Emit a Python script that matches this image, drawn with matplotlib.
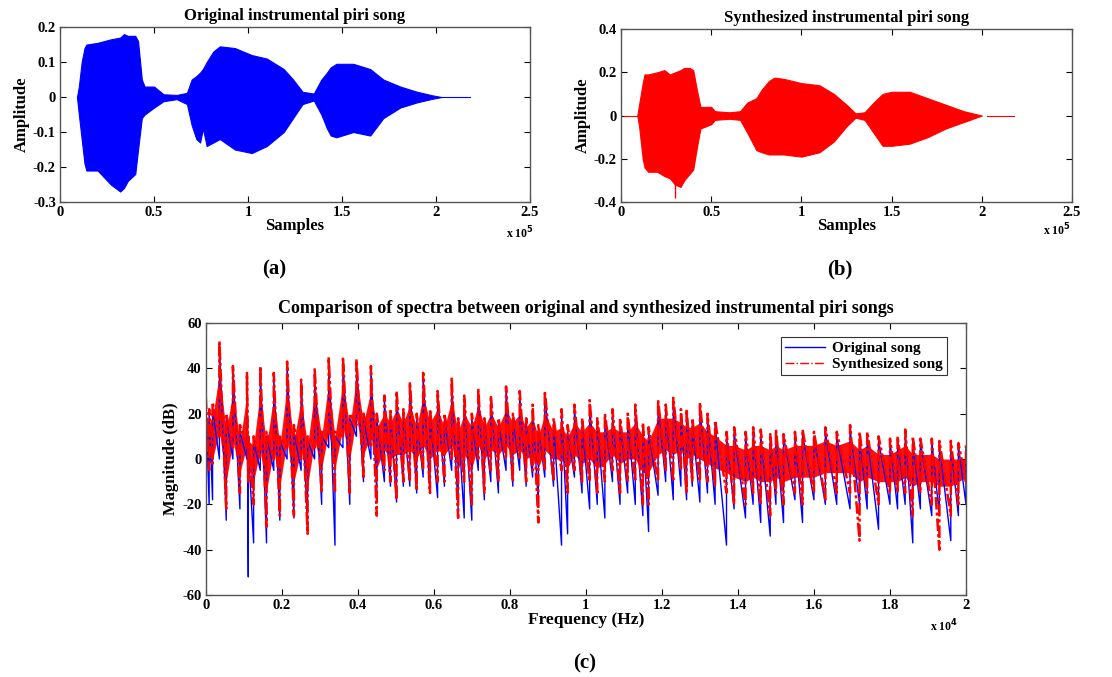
import matplotlib
matplotlib.use('Agg')
import matplotlib.pyplot as plt
from matplotlib.ticker import FuncFormatter
from matplotlib.lines import Line2D

plt.rcParams['font.family'] = 'Liberation Serif'
plt.rcParams['font.weight'] = 'bold'
plt.rcParams['axes.unicode_minus'] = False

# ---- (a) original waveform envelope (samples, amplitude) ----
a_samples = [9000, 10000, 11500, 13000, 14000, 20000, 27000, 32000, 34000, 36000,
             40000, 41500, 43500, 45000, 50000, 55000, 62000, 67500, 70000, 72500,
             74500, 76000, 78000, 81500, 85000, 93000, 102000, 110000, 119000, 124000,
             129000, 135000, 139000, 142000, 144000, 147000, 156000, 165000, 172000, 181000,
             190000, 198000, 203000]
a_upper = [0.0, 0.03, 0.10, 0.14, 0.15, 0.155, 0.165, 0.17, 0.18, 0.175,
           0.175, 0.16, 0.05, 0.03, 0.03, 0.008, 0.006, 0.012, 0.05, 0.06,
           0.07, 0.08, 0.10, 0.13, 0.145, 0.14, 0.12, 0.11, 0.08, 0.05,
           0.015, 0.01, 0.05, 0.07, 0.085, 0.095, 0.095, 0.08, 0.05, 0.03,
           0.015, 0.005, 0.0]
a_lower = [0.0, -0.05, -0.12, -0.19, -0.21, -0.21, -0.25, -0.27, -0.26, -0.24,
           -0.22, -0.15, -0.06, -0.05, -0.03, -0.012, -0.006, -0.02, -0.08, -0.12,
           -0.13, -0.09, -0.14, -0.13, -0.12, -0.15, -0.16, -0.14, -0.10, -0.06,
           -0.02, -0.01, -0.05, -0.09, -0.11, -0.115, -0.10, -0.11, -0.06, -0.03,
           -0.015, -0.005, 0.0]
a_flat = [203000, 218000]

# ---- (b) synthesized waveform envelope ----
b_samples = [9000, 10000, 12000, 13000, 15000, 20000, 24000, 27000, 30000, 33000,
             35000, 38000, 40000, 42000, 44000, 50000, 52000, 60000, 66000, 70000,
             75000, 78000, 82000, 85000, 90000, 100000, 110000, 118000, 125000, 130000,
             135000, 140000, 145000, 150000, 160000, 170000, 180000, 190000, 200000]
b_upper = [0.0, 0.05, 0.15, 0.19, 0.19, 0.20, 0.21, 0.19, 0.20, 0.21,
           0.22, 0.22, 0.21, 0.12, 0.04, 0.04, 0.02, 0.015, 0.02, 0.06,
           0.08, 0.12, 0.16, 0.175, 0.17, 0.15, 0.14, 0.10, 0.05, 0.01,
           0.015, 0.06, 0.10, 0.11, 0.11, 0.08, 0.05, 0.02, 0.0]
b_lower = [0.0, -0.05, -0.20, -0.24, -0.26, -0.26, -0.28, -0.29, -0.32, -0.33,
           -0.30, -0.27, -0.25, -0.15, -0.06, -0.04, -0.02, -0.015, -0.02, -0.08,
           -0.16, -0.17, -0.18, -0.18, -0.18, -0.19, -0.17, -0.12, -0.05, -0.01,
           -0.02, -0.08, -0.14, -0.14, -0.13, -0.10, -0.06, -0.03, 0.0]
b_spike_x = [30000]
b_spike_y = [-0.38]
b_flat_lead = [1500, 9000]
b_flat_tail = [203000, 218000]

# ---- (c) spectra: frequency (Hz), upper/lower extent of each stroke (dB) ----
freq = [0, 90, 180, 360, 540, 715, 900, 1085, 1120, 1260,
        1435, 1600, 1790, 1950, 2140, 2320, 2510, 2680, 2865, 3050,
        3235, 3400, 3610, 3790, 3965, 4150, 4345, 4500, 4700, 4860,
        5020, 5200, 5370, 5550, 5720, 5900, 6100, 6280, 6470, 6640,
        6800, 7000, 7170, 7330, 7500, 7700, 7900, 8080, 8260, 8430,
        8600, 8750, 8920, 9150, 9360, 9520, 9700, 9900, 10100, 10300,
        10500, 10700, 10900, 11100, 11300, 11500, 11650, 11900, 12100, 12300,
        12500, 12650, 12800, 13000, 13200, 13400, 13700, 13900, 14200, 14400,
        14600, 14850, 15000, 15200, 15500, 15700, 16000, 16300, 16600, 16950,
        17200, 17400, 17700, 18000, 18200, 18400, 18600, 18800, 19100, 19300,
        19600, 19800, 20000]
synth_hi = [28, 22, 25, 52, 20, 41, 15, 38, 10, 10,
            41, 12, 38, 10, 43, 15, 35, 10, 40, 12,
            45, 12, 45, 20, 44, 20, 41, 20, 28, 22,
            30, 22, 34, 20, 38, 22, 30, 20, 36, 18,
            28, 20, 31, 18, 28, 18, 32, 20, 30, 18,
            24, 15, 30, 18, 22, 15, 24, 18, 26, 18,
            20, 22, 18, 20, 24, 16, 14, 26, 24, 27,
            22, 22, 18, 25, 20, 17, 12, 14, 12, 14,
            13, 11, 13, 11, 12, 13, 12, 14, 12, 15,
            12, 12, 10, 9, 10, 13, 10, 9, 9, 8,
            8, 7, 6]
synth_lo = [0, -5, -2, 10, -22, 5, -15, 5, -10, -20,
            0, -30, 0, -25, 5, -25, 0, -33, 5, -15,
            10, -15, 10, -15, 15, -8, 5, -25, -5, -10,
            -18, -10, -10, -14, -5, -15, -10, -10, 0, -26,
            -10, -20, 0, -15, -5, -10, 0, -10, 0, -10,
            -5, -28, -5, -10, -5, -15, -5, -10, -10, -15,
            -10, -5, -15, -10, -10, -20, -20, -10, -5, -10,
            -5, -15, -10, -10, -10, -12, -15, -20, -20, -15,
            -20, -25, -15, -20, -15, -20, -15, -18, -15, -15,
            -36, -15, -20, -15, -15, -15, -25, -15, -20, -40,
            -25, -20, -10]
# solid part of the red trace at the same frequencies
synth_core_hi = [20, 16, 18, 38, 12, 30, 8, 28, 8, 6,
                 30, 6, 28, 6, 32, 8, 26, 6, 30, 10,
                 34, 10, 34, 14, 36, 16, 30, 14, 20, 16,
                 22, 16, 24, 14, 28, 16, 22, 14, 26, 12,
                 20, 14, 24, 14, 20, 14, 22, 16, 20, 14,
                 18, 10, 20, 12, 14, 10, 16, 12, 16, 12,
                 12, 14, 12, 12, 16, 10, 8, 18, 18, 18,
                 16, 14, 14, 16, 12, 10, 6, 6, 4, 6,
                 6, 4, 6, 4, 6, 6, 6, 8, 6, 8,
                 4, 6, 2, 2, 4, 6, 2, 2, 2, 0,
                 0, 0, 0]
synth_core_lo = [2, -2, 0, 12, -10, 8, -6, 6, -4, -10,
                 4, -14, 4, -12, 8, -10, 4, -12, 8, -4,
                 12, -4, 14, 0, 18, 2, 10, -4, 4, 0,
                 2, 2, 4, 0, 6, 0, 4, 2, 6, -4,
                 2, -4, 6, 0, 4, 2, 6, 2, 4, 0,
                 2, -4, 4, 0, 0, -4, 2, -2, 0, -4,
                 -2, 2, -2, 0, 0, -6, -6, 2, 4, 2,
                 4, 0, 2, 0, -2, -4, -6, -8, -10, -8,
                 -10, -10, -8, -10, -8, -8, -8, -6, -6, -6,
                 -10, -8, -10, -10, -10, -8, -12, -10, -10, -12,
                 -12, -10, -8]
orig_hi = [25, 20, 22, 50, 18, 40, 12, 36, 5, 8,
           40, 10, 36, 8, 42, 12, 34, 8, 38, 10,
           44, 10, 44, 18, 43, 18, 40, 18, 26, 20,
           28, 20, 32, 18, 36, 20, 28, 18, 34, 16,
           26, 18, 30, 16, 26, 16, 30, 18, 28, 16,
           22, 14, 28, 16, 20, 12, 22, 16, 24, 16,
           18, 20, 16, 18, 22, 14, 12, 24, 22, 25,
           20, 20, 16, 23, 18, 15, 10, 12, 10, 12,
           11, 10, 11, 10, 10, 11, 10, 12, 10, 13,
           10, 10, 8, 8, 8, 12, 8, 8, 8, 6,
           6, 6, 5]
orig_lo = [-5, -20, -18, 0, -27, 0, -22, 0, -52, -37,
           -5, -37, -5, -27, 0, -26, -5, -30, 0, -20,
           5, -38, 5, -20, 10, -10, 0, -15, -10, -12,
           -19, -12, -12, -15, -8, -15, -17, -12, -5, -22,
           -26, -27, -5, -18, -10, -15, -5, -12, -5, -12,
           -8, -20, -8, -12, -38, -33, -8, -15, -22, -20,
           -26, -10, -20, -15, -20, -25, -32, -16, -10, -18,
           -12, -18, -12, -19, -15, -20, -38, -22, -26, -20,
           -28, -34, -20, -28, -18, -28, -18, -20, -20, -22,
           -20, -22, -31, -20, -22, -20, -37, -22, -25, -25,
           -36, -25, -20]


def strokes(f, lo, hi):
    # each frequency gets a vertical stroke lo -> hi, like a dense spectrum trace
    xs, ys = [], []
    for fi, l, h in zip(f, lo, hi):
        xs += [fi, fi]
        ys += [l, h]
    return xs, ys


fig = plt.figure(figsize=(11.12, 6.77), dpi=100)


def style_axes(ax):
    ax.tick_params(direction='in', top=True, right=True, length=4, width=0.8,
                   labelsize=10.5, pad=3)
    for s in ax.spines.values():
        s.set_color('#555555')
        s.set_linewidth(1.0)
    for lab in ax.get_xticklabels() + ax.get_yticklabels():
        lab.set_fontweight('bold')


samples_fmt = FuncFormatter(lambda v, p: '0' if v == 0 else ('%g' % (v / 1e5)))

# (a)
ax1 = fig.add_axes([0.054, 0.7016, 0.4226, 0.2584])
ax1.fill_between(a_samples, a_lower, a_upper, color='#0000ff', linewidth=0.8)
ax1.plot(a_flat, [0, 0], color='#0000ff', linewidth=0.8)
ax1.set_xlim(0, 250000)
ax1.set_ylim(-0.3, 0.2)
ax1.set_xticks([0, 50000, 100000, 150000, 200000, 250000])
ax1.xaxis.set_major_formatter(samples_fmt)
ax1.set_yticks([-0.3, -0.2, -0.1, 0, 0.1, 0.2])
ax1.set_yticklabels(['-0.3', '-0.2', '-0.1', '0', '0.1', '0.2'])
ax1.set_title('Original instrumental piri song', fontsize=12, fontweight='bold', pad=5)
ax1.set_xlabel('Samples', fontsize=12, fontweight='bold', labelpad=-1)
ax1.set_ylabel('Amplitude', fontsize=12, fontweight='bold', labelpad=2)
style_axes(ax1)

# (b)
ax2 = fig.add_axes([0.5585, 0.7016, 0.4055, 0.2555])
ax2.fill_between(b_samples, b_lower, b_upper, color='#ff0000', linewidth=0.8)
ax2.vlines(b_spike_x, b_spike_y, [0], color='#ff0000', linewidth=1.0)
ax2.plot(b_flat_lead, [0, 0], color='#ff0000', linewidth=0.8)
ax2.plot(b_flat_tail, [0, 0], color='#ff0000', linewidth=0.8)
ax2.set_xlim(0, 250000)
ax2.set_ylim(-0.4, 0.4)
ax2.set_xticks([0, 50000, 100000, 150000, 200000, 250000])
ax2.xaxis.set_major_formatter(samples_fmt)
ax2.set_yticks([-0.4, -0.2, 0, 0.2, 0.4])
ax2.set_yticklabels(['-0.4', '-0.2', '0', '0.2', '0.4'])
ax2.set_title('Synthesized instrumental piri song', fontsize=12, fontweight='bold', pad=5)
ax2.set_xlabel('Samples', fontsize=12, fontweight='bold', labelpad=-1)
ax2.set_ylabel('Amplitude', fontsize=12, fontweight='bold', labelpad=2)
style_axes(ax2)

# (c)
ax3 = fig.add_axes([0.185, 0.1211, 0.6837, 0.4018])
ox, oy = strokes(freq, orig_lo, orig_hi)
sx, sy = strokes(freq, synth_lo, synth_hi)
ax3.plot(ox, oy, color='#0000ff', linewidth=1.0)
ax3.fill_between(freq, synth_core_lo, synth_core_hi, color='#ff1010', linewidth=0)
ax3.plot(sx, sy, color='#ff0000', linewidth=1.8, dashes=(5, 1.2, 1.2, 1.2))
ax3.set_xlim(0, 20000)
ax3.set_ylim(-60, 60)
ax3.set_xticks([0, 2000, 4000, 6000, 8000, 10000, 12000, 14000, 16000, 18000, 20000])
ax3.xaxis.set_major_formatter(FuncFormatter(lambda v, p: '0' if v == 0 else ('%g' % (v / 1e4))))
ax3.set_yticks([-60, -40, -20, 0, 20, 40, 60])
ax3.set_title('Comparison of spectra between original and synthesized instrumental piri songs',
              fontsize=13, fontweight='bold', pad=7)
ax3.set_xlabel('Frequency (Hz)', fontsize=12.5, fontweight='bold', labelpad=0)
ax3.set_ylabel('Magnitude (dB)', fontsize=12, fontweight='bold', labelpad=2)
style_axes(ax3)
handles = [Line2D([], [], color='#0000ff', linewidth=1.0),
           Line2D([], [], color='#ff0000', linewidth=1.0, linestyle='-.')]
leg = ax3.legend(handles, ['Original song', 'Synthesized song'], loc='upper right',
                 bbox_to_anchor=(0.985, 0.975), fancybox=False, framealpha=1,
                 edgecolor='#333333', prop=dict(size=11, weight='bold'),
                 handlelength=2.6, borderpad=0.25, labelspacing=0.15, handletextpad=0.5)
leg.get_frame().set_linewidth(0.8)

# multiplier labels and panel letters
fig.text(0.455, 0.648, r'x 10$^5$', fontsize=8.5, fontweight='bold')
fig.text(0.938, 0.652, r'x 10$^5$', fontsize=8.5, fontweight='bold')
fig.text(0.836, 0.067, r'x 10$^4$', fontsize=8.5, fontweight='bold')
fig.text(0.247, 0.595, '(a)', fontsize=15, fontweight='bold', ha='center')
fig.text(0.755, 0.595, '(b)', fontsize=15, fontweight='bold', ha='center')
fig.text(0.526, 0.012, '(c)', fontsize=15, fontweight='bold', ha='center')

fig.savefig('out.png', dpi=100)
